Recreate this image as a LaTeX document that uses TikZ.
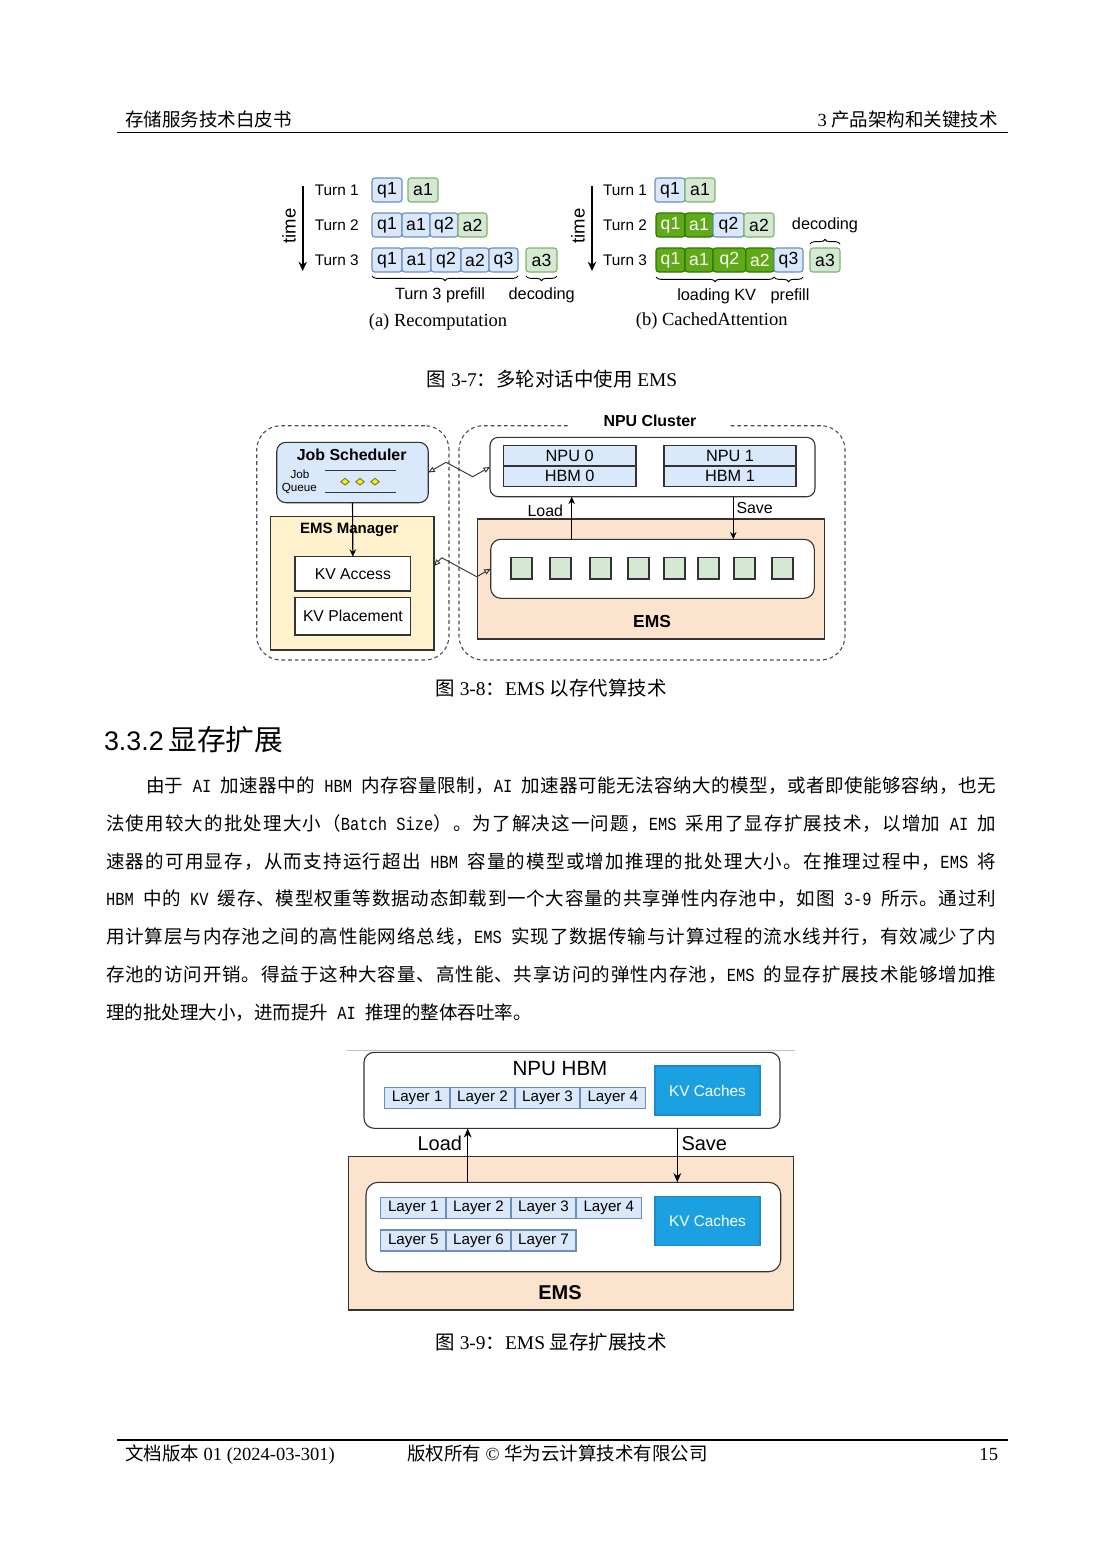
\documentclass[tikz,border=0pt]{standalone}
\usepackage{fontspec}
\setmainfont{Liberation Serif}
\newfontfamily\cjk{Noto Sans CJK SC}
\newfontfamily\hv{Liberation Sans}
\newfontfamily\mono[FakeStretch=0.833]{Liberation Mono}
\usetikzlibrary{arrows.meta,decorations.pathreplacing,calc,shapes.geometric}
\newcommand\fsz[1]{\fontsize{#1}{#1}\selectfont}
% character classes for CJK justification
\newcount\cccnt
\cccnt="4E00
\loop \XeTeXcharclass\cccnt=1 \advance\cccnt by 1 \ifnum\cccnt<"A000 \repeat
\XeTeXcharclass"3001=3
\XeTeXcharclass"3002=3
\XeTeXcharclass"FF0C=3
\XeTeXcharclass"FF1A=3
\XeTeXcharclass"FF09=3
\XeTeXcharclass"FF08=2
\newcommand\cgl{\hskip 0pt plus 2pt minus 1pt\relax}
\XeTeXinterchartokenstate=1
\XeTeXinterchartoks 1 1 = {\cgl}
\XeTeXinterchartoks 1 2 = {\cgl}
\XeTeXinterchartoks 1 3 = {\cgl}
\XeTeXinterchartoks 2 1 = {\cgl}
\XeTeXinterchartoks 3 1 = {\cgl}
\XeTeXinterchartoks 3 2 = {\cgl}
\XeTeXinterchartoks 3 3 = {\cgl}
\newcommand\LL[1]{{\mono\fsz{10}\spaceskip=5pt\relax#1}}
\newcommand\bodyline[2]{\hbox to #1{\cjk\fsz{10}#2}}
\newcommand\bx[7]{\node[#1, minimum width={(#5-#3)*0.5402pt}, minimum height={(#6-#4)*0.5402pt}] (#2) at ({(#3+#5)/2},{(#4+#6)/2}) {#7};}
\definecolor{blueF}{HTML}{DAE8FC}
\definecolor{blueD}{HTML}{6C8EBF}
\definecolor{greenF}{HTML}{D5E8D4}
\definecolor{greenD}{HTML}{82B366}
\definecolor{dgreenF}{HTML}{60A917}
\definecolor{dgreenD}{HTML}{2D7600}
\definecolor{peachF}{HTML}{FCE3CD}
\definecolor{yelF}{HTML}{FFF2CC}
\definecolor{kvF}{HTML}{1BA1E2}
\definecolor{kvD}{HTML}{1A8ACB}
\definecolor{edge}{HTML}{333333}
\tikzset{
  lab/.style={font=\hv\fsz{8.3}},
  sublab/.style={font=\hv\fsz{8.8}},
  capt/.style={font=\fsz{10}},
  tq/.style={draw=blueD, fill=blueF, rounded corners=1.5pt, line width=0.6pt, font=\hv\fsz{9.5}},
  ta/.style={draw=greenD, fill=greenF, rounded corners=1.5pt, line width=0.6pt, font=\hv\fsz{9.5}},
  tk/.style={draw=dgreenD, fill=dgreenF, text=white, rounded corners=1.5pt, line width=0.6pt, font=\hv\fsz{9.5}},
  brc/.style={decorate, decoration={brace, amplitude=2.5pt}, line width=0.5pt},
  brcm/.style={decorate, decoration={brace, mirror, amplitude=2.5pt}, line width=0.5pt},
  tarr/.style={line width=0.9pt, -{Stealth[length=5pt,width=4.5pt]}},
  dashbox/.style={draw=black!70, dash pattern=on 2pt off 1.6pt, line width=0.6pt, rounded corners=13pt},
  dk/.style={draw=edge, line width=0.6pt},
  cellb/.style={dk, fill=blueF, font=\hv\fsz{8.8}},
  arr/.style={line width=0.6pt, -{Stealth[length=4pt,width=3.5pt]}},
  arrb/.style={line width=0.7pt, -{Stealth[length=5pt,width=4.2pt]}},
  zz/.style={line width=0.5pt, draw=edge, {Triangle[open,length=3.5pt,width=3pt]}-{Triangle[open,length=3.5pt,width=3pt]}},
  lay/.style={draw=blueD, fill=blueF, line width=0.6pt, font=\hv\fsz{8.2}},
  kvbox/.style={draw=kvD, fill=kvF, text=white, line width=0.6pt, font=\hv\fsz{8.3}},
  gsq/.style={draw=edge, fill=greenF, line width=0.6pt},
  dia/.style={diamond, draw=black!70!yellow, fill=yellow, line width=0.4pt, minimum width=4.6pt, minimum height=3.6pt}
}
\begin{document}
\begin{tikzpicture}[x=0.5402pt,y=-0.5402pt, every node/.style={inner sep=0pt, outer sep=0pt}]
\useasboundingbox (0,0) rectangle (1102,1559);
\fill[white] (0,0) rectangle (1102,1559);

% ---------------- header ----------------
\node[anchor=base west, font=\cjk\fsz{10}] (hleft) at (125,126) {存储服务技术白皮书};
\node[anchor=base east, font=\fsz{10}] (hright) at (998,126) {3 {\cjk 产品架构和关键技术}};
\coordinate (hr0) at (117,132.3);
\coordinate (hr1) at (1008,132.3);
\draw[line width=0.8pt] (hr0) -- (hr1);

% ---------------- Figure 3-7 (a) ----------------
\coordinate (ta0) at (302.7,186);
\coordinate (ta1) at (302.7,271);
\draw[tarr] (ta0) -- (ta1);
\node[rotate=90, font=\hv\fsz{10}] (timea) at (289,226) {time};
\node[lab] (aT1) at (336.7,190.5) {Turn 1};
\node[lab] (aT2) at (336.7,225.5) {Turn 2};
\node[lab] (aT3) at (336.7,260.5) {Turn 3};
\bx{tq}{a1q1}{372}{178}{402}{202}{q1}
\bx{ta}{a1a1}{408}{178}{438}{202}{a1}
\bx{tq}{a2q1}{372}{213}{402}{237}{q1}
\bx{tq}{a2a1}{402}{213}{430}{237}{a1}
\bx{tq}{a2q2}{430}{213}{458}{237}{q2}
\bx{ta}{a2a2}{458}{213}{487}{237}{a2}
\bx{tq}{a3q1}{372}{248}{402}{272}{q1}
\bx{tq}{a3a1}{402}{248}{431}{272}{a1}
\bx{tq}{a3q2}{431}{248}{461}{272}{q2}
\bx{tq}{a3a2}{461}{248}{489}{272}{a2}
\bx{tq}{a3q3}{489}{248}{518}{272}{q3}
\bx{ta}{a3a3}{526}{248}{557}{272}{a3}
\draw[brcm] ($(a3q1.south west)+(0,4)$) -- ($(a3q3.south east)+(0,4)$);
\draw[brcm] ($(a3a3.south west)+(0,4)$) -- ($(a3a3.south east)+(0,4)$);
\node[sublab] (apre) at (440,295) {Turn 3 prefill};
\node[sublab] (adec) at (541.7,295) {decoding};
\node[capt] (acap) at (438,322.5) {(a) Recomputation};

% ---------------- Figure 3-7 (b) ----------------
\coordinate (tb0) at (592,186);
\coordinate (tb1) at (592,271);
\draw[tarr] (tb0) -- (tb1);
\node[rotate=90, font=\hv\fsz{10}] (timeb) at (578,226) {time};
\node[lab] (bT1) at (625,190.5) {Turn 1};
\node[lab] (bT2) at (625,225.5) {Turn 2};
\node[lab] (bT3) at (625,260.5) {Turn 3};
\bx{tq}{b1q1}{655}{178}{685}{202}{q1}
\bx{ta}{b1a1}{685}{178}{715}{202}{a1}
\bx{tk}{b2q1}{656}{213}{685}{237}{q1}
\bx{tk}{b2a1}{685}{213}{713}{237}{a1}
\bx{tq}{b2q2}{713}{213}{744}{237}{q2}
\bx{ta}{b2a2}{744}{213}{774}{237}{a2}
\bx{tk}{b3q1}{656}{248}{685}{272}{q1}
\bx{tk}{b3a1}{685}{248}{713}{272}{a1}
\bx{tk}{b3q2}{713}{248}{745.7}{272}{q2}
\bx{tk}{b3a2}{745.7}{248}{774}{272}{a2}
\bx{tq}{b3q3}{774}{248}{803}{272}{q3}
\bx{ta}{b3a3}{810}{248}{840}{272}{a3}
\draw[brcm] ($(b3q1.south west)+(0,5)$) -- ($(b3a2.south east)+(0,5)$);
\draw[brcm] ($(b3q3.south west)+(0,5)$) -- ($(b3q3.south east)+(0,5)$);
\draw[brc] ($(b3a3.north west)+(0,-4)$) -- ($(b3a3.north east)+(0,-4)$);
\node[sublab] (bload) at (716.7,296.5) {loading KV};
\node[sublab] (bpre) at (790,296.5) {prefill};
\node[sublab] (bdec) at (825,225) {decoding};
\node[capt] (bcap) at (711.7,321.5) {(b) CachedAttention};

\node[anchor=base, font=\fsz{10.5}] (cap37) at (552,386.5) {{\cjk 图} 3-7{\cjk ：多轮对话中使用} EMS};

% ---------------- Figure 3-8 ----------------
\bx{dashbox}{leftgrp}{256.7}{425.7}{449}{660}{}
\bx{dashbox}{rightgrp}{459}{425.7}{845}{660}{}
\node[fill=white, minimum width=86pt, minimum height=11pt, font=\hv\bfseries\fsz{8.6}] (clus) at (650,421) {NPU Cluster};

\bx{dk, fill=blueF, rounded corners=5pt}{js}{276.7}{442.3}{428.3}{502.7}{}
\node[font=\hv\bfseries\fsz{8.6}] (jst) at (351.7,455) {Job Scheduler};
\node[font=\hv\fsz{6.3}] (jq1) at (300,474) {Job};
\node[font=\hv\fsz{6.3}] (jq2) at (299.3,488.5) {Queue};
\draw[dk] (325,470.7) -- (395.7,470.7);
\draw[dk] (325,492.3) -- (395.7,492.3);
\node[dia] (d1) at (345,481.7) {};
\node[dia] (d2) at (360,481.7) {};
\node[dia] (d3) at (375,481.7) {};

\bx{dk, fill=yelF}{emsm}{270.7}{516.7}{434}{650}{}
\node[font=\hv\bfseries\fsz{8.1}] (emsmt) at (349.3,530) {EMS Manager};
\bx{dk, fill=white, font=\hv\fsz{8.5}}{kva}{295}{556.7}{410.7}{591}{KV Access}
\bx{dk, fill=white, font=\hv\fsz{8.5}}{kvp}{295}{597.3}{410.7}{635}{KV Placement}
\draw[arr] (js.south) -- (kva.north);

\bx{dk, fill=white, rounded corners=4.5pt}{npub}{490}{437.3}{815}{496.7}{}
\bx{cellb}{npu0}{503.3}{445.7}{636}{466}{NPU 0}
\bx{cellb}{hbm0}{503.3}{466}{636}{486.7}{HBM 0}
\bx{cellb}{npu1}{664}{445.7}{796}{466}{NPU 1}
\bx{cellb}{hbm1}{664}{466}{796}{486.7}{HBM 1}

\bx{dk, fill=peachF}{ems}{477.7}{519}{824.3}{639}{}
\bx{dk, fill=white, rounded corners=5.5pt}{emsin}{490.7}{539.3}{814.3}{598.3}{}
\node[font=\hv\bfseries\fsz{9.4}] (emst) at (652,621.7) {EMS};
\foreach \i/\x in {1/511,2/550,3/590,4/628,5/664,6/698,7/734,8/772}{
  \bx{gsq}{sq\i}{\x}{557.7}{\x+21}{579}{}
}
\coordinate (loadx) at (571.7,0);
\coordinate (savex) at (733.3,0);
\draw[arr] (emsin.north -| loadx) -- (npub.south -| loadx);
\draw[arr] (npub.south -| savex) -- (emsin.north -| savex);
\node[anchor=east, font=\hv\fsz{8.6}] (loadt) at (563,511) {Load};
\node[anchor=west, font=\hv\fsz{8.6}] (savet) at (736.5,508.3) {Save};

\draw[zz] (js.east) -- (446,462.3) -- (472.7,476.7) -- (npub.west);
\draw[zz] (emsm.east |- 0,566) -- (441.7,557.7) -- (476.7,576.7) -- (emsin.west);

\node[anchor=base, font=\fsz{10.5}] (cap38) at (551,695.5) {{\cjk 图} 3-8{\cjk ：}EMS {\cjk 以存代算技术}};

% ---------------- Section 3.3.2 ----------------
\node[anchor=base west] (sec) at (104,750) {{\hv\fsz{14.5}3.3.2} {\cjk\fsz{15.5}显存扩展}};

\node[anchor=base west] (p1) at (146,792) {\bodyline{459.2pt}{由于\LL{ AI }加速器中的\LL{ HBM }内存容量限制，\LL{AI }加速器可能无法容纳大的模型，或者即使能够容纳，也无}};
\node[anchor=base west] (p2) at (106,830) {\bodyline{480.8pt}{法使用较大的批处理大小（\LL{Batch Size}）。为了解决这一问题，\LL{EMS }采用了显存扩展技术，以增加\LL{ AI }加}};
\node[anchor=base west] (p3) at (106,868) {\bodyline{480.8pt}{速器的可用显存，从而支持运行超出\LL{ HBM }容量的模型或增加推理的批处理大小。在推理过程中，\LL{EMS }将}};
\node[anchor=base west] (p4) at (106,905) {\bodyline{480.8pt}{\LL{HBM }中的\LL{ KV }缓存、模型权重等数据动态卸载到一个大容量的共享弹性内存池中，如图\LL{ 3-9 }所示。通过利}};
\node[anchor=base west] (p5) at (106,943) {\bodyline{480.8pt}{用计算层与内存池之间的高性能网络总线，\LL{EMS }实现了数据传输与计算过程的流水线并行，有效减少了内}};
\node[anchor=base west] (p6) at (106,981) {\bodyline{480.8pt}{存池的访问开销。得益于这种大容量、高性能、共享访问的弹性内存池，\LL{EMS }的显存扩展技术能够增加推}};
\node[anchor=base west, font=\cjk\fsz{10}] (p7) at (106,1019) {理的批处理大小，进而提升\LL{ AI }推理的整体吞吐率。};

% ---------------- Figure 3-9 ----------------
\draw[black!25, line width=0.5pt] (347,1050.7) -- (795,1050.7);
\bx{dk, fill=white, rounded corners=5.5pt}{hbmbox}{364}{1052.3}{780}{1128.3}{}
\node[font=\hv\fsz{11.1}] (hbmt) at (560,1068.3) {NPU HBM};
\bx{lay}{u1}{384.3}{1087.7}{450}{1108.3}{Layer 1}
\bx{lay}{u2}{450}{1087.7}{515}{1108.3}{Layer 2}
\bx{lay}{u3}{515}{1087.7}{580}{1108.3}{Layer 3}
\bx{lay}{u4}{580}{1087.7}{645.7}{1108.3}{Layer 4}
\bx{kvbox}{kvu}{655}{1066}{760}{1115}{KV Caches}

\bx{dk, fill=peachF}{ems2}{348.3}{1156.7}{793.3}{1310}{}
\bx{dk, fill=white, rounded corners=6.5pt}{ems2in}{366}{1182.3}{780.7}{1271.7}{}
\bx{lay}{l1}{380.7}{1197.3}{446}{1218.3}{Layer 1}
\bx{lay}{l2}{446}{1197.3}{511}{1218.3}{Layer 2}
\bx{lay}{l3}{511}{1197.3}{576}{1218.3}{Layer 3}
\bx{lay}{l4}{576}{1197.3}{641.7}{1218.3}{Layer 4}
\bx{lay}{l5}{380.7}{1230}{446}{1251}{Layer 5}
\bx{lay}{l6}{446}{1230}{511}{1251}{Layer 6}
\bx{lay}{l7}{511}{1230}{576}{1251}{Layer 7}
\bx{kvbox}{kvl}{655}{1196.7}{760}{1245.7}{KV Caches}
\node[font=\hv\bfseries\fsz{10.8}] (ems2t) at (560,1292.7) {EMS};

\coordinate (load2x) at (467.7,0);
\coordinate (save2x) at (677.3,0);
\draw[arrb] (ems2in.north -| load2x) -- (hbmbox.south -| load2x);
\draw[arrb] (hbmbox.south -| save2x) -- (ems2in.north -| save2x);
\node[anchor=east, font=\hv\fsz{10.8}] (load2t) at (462,1143.3) {Load};
\node[anchor=west, font=\hv\fsz{10.8}] (save2t) at (681.5,1143.3) {Save};

\node[anchor=base, font=\fsz{10.5}] (cap39) at (551,1349.5) {{\cjk 图} 3-9{\cjk ：}EMS {\cjk 显存扩展技术}};

% ---------------- footer ----------------
\coordinate (fr0) at (117,1440);
\coordinate (fr1) at (1008,1440);
\draw[line width=0.6pt] (fr0) -- (fr1);
\node[anchor=base west, font=\fsz{10}] (fl) at (125,1460) {{\cjk 文档版本} 01 (2024-03-301)};
\node[anchor=base west, font=\fsz{10}] (fm) at (407,1460) {{\cjk 版权所有} © {\cjk 华为云计算技术有限公司}};
\node[anchor=base east, font=\fsz{10}] (fr) at (998,1460) {15};
\end{tikzpicture}
\end{document}
